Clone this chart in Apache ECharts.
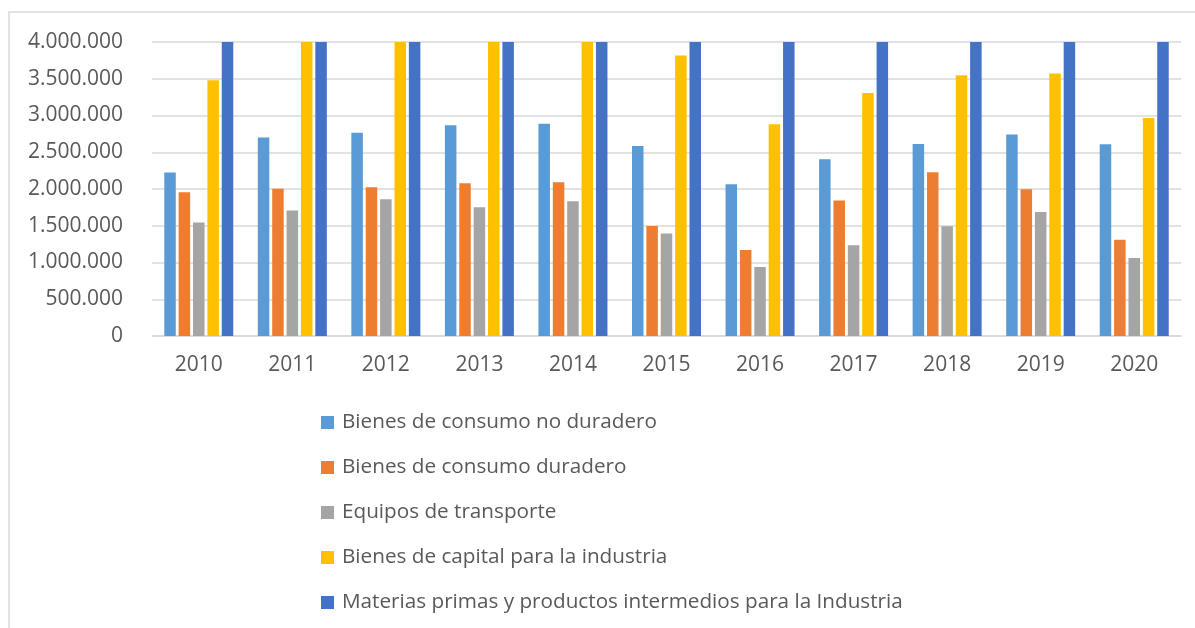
<!DOCTYPE html>
<html>
<head>
<meta charset="utf-8">
<script src="https://cdn.jsdelivr.net/npm/echarts@6/dist/echarts.min.js"></script>
<style>
  html, body { margin: 0; padding: 0; background: #fff; }
  #chart { width: 1195px; height: 628px; }
</style>
</head>
<body>
<div id="chart"></div>
<script>
let years = ['2010', '2011', '2012', '2013', '2014', '2015', '2016', '2017', '2018', '2019', '2020']
let seriesNames = [
    'Bienes de consumo no duradero',
    'Bienes de consumo duradero',
    'Equipos de transporte',
    'Bienes de capital para la industria',
    'Materias primas y productos intermedios para la Industria'
]
let noDuradero = [2223000, 2699000, 2767000, 2866000, 2889000, 2585000, 2064000, 2404000, 2612000, 2740000, 2608000]
let duradero = [1955000, 2005000, 2023000, 2078000, 2091000, 1497000, 1170000, 1842000, 2227000, 1996000, 1311000]
let transporte = [1543000, 1706000, 1860000, 1751000, 1833000, 1393000, 939000, 1234000, 1492000, 1687000, 1061000]
// 2011-2014 go past the top of the axis in the picture
let capital = [3479000, 4100000, 4300000, 4250000, 4200000, 3815000, 2880000, 3306000, 3547000, 3570000, 2966000]
// all of these are cut off at 4.000.000
let materias = [7500000, 8200000, 8500000, 8900000, 9000000, 8000000, 6800000, 7400000, 8100000, 7900000, 6900000]
let yTicks = [0, 500000, 1000000, 1500000, 2000000, 2500000, 3000000, 3500000, 4000000]

let colors = ['#5b9bd5', '#ed7d31', '#a5a5a5', '#ffc000', '#4472c4']
let font = '"Open Sans", sans-serif'

let chartDom = document.getElementById('chart')
let Chart = echarts.init(chartDom)

let allData = [noDuradero, duradero, transporte, capital, materias]
let series = allData.map(function (d, i) {
    return {
        name: seriesNames[i],
        type: 'bar',
        data: d,
        barWidth: 11.5,
        barGap: '25%',
        clip: true,
        itemStyle: { color: colors[i] }
    }
})

let option = {
    backgroundColor: '#ffffff',
    animation: false,
    color: colors,
    graphic: [{
        type: 'rect',
        shape: { x: 9, y: 12, width: 1400, height: 800 },
        style: { fill: 'none', stroke: '#d9d9d9', lineWidth: 1.5 },
        silent: true
    }],
    grid: {
        left: 152,
        right: 14,
        top: 42,
        bottom: 292
    },
    xAxis: {
        type: 'category',
        data: years,
        axisLine: { lineStyle: { color: '#d9d9d9', width: 1.5 } },
        // no tick marks in the original
        axisTick: { show: false },
        axisLabel: {
            color: '#595959',
            fontFamily: font,
            fontSize: 21,
            margin: 19
        }
    },
    yAxis: {
        type: 'value',
        min: yTicks[0],
        max: yTicks[yTicks.length - 1],
        interval: yTicks[1] - yTicks[0],
        axisLine: { show: false },
        axisTick: { show: false },
        splitLine: { lineStyle: { color: '#d9d9d9', width: 1.5 } },
        axisLabel: {
            color: '#595959',
            fontFamily: font,
            fontSize: 21,
            margin: 29,
            formatter: function (v) {
                return String(v).replace(/\B(?=(\d{3})+(?!\d))/g, '.')
            }
        }
    },
    legend: {
        orient: 'vertical',
        left: 321,
        top: 412,
        height: 300,
        padding: 0,
        icon: 'rect',
        itemWidth: 13,
        itemHeight: 13,
        itemGap: 24,
        textStyle: {
            color: '#595959',
            fontFamily: font,
            fontSize: 20.7,
            padding: [0, 0, 0, 3]
        },
        data: seriesNames
    },
    series: series
}
Chart.setOption(option)
</script>
</body>
</html>
